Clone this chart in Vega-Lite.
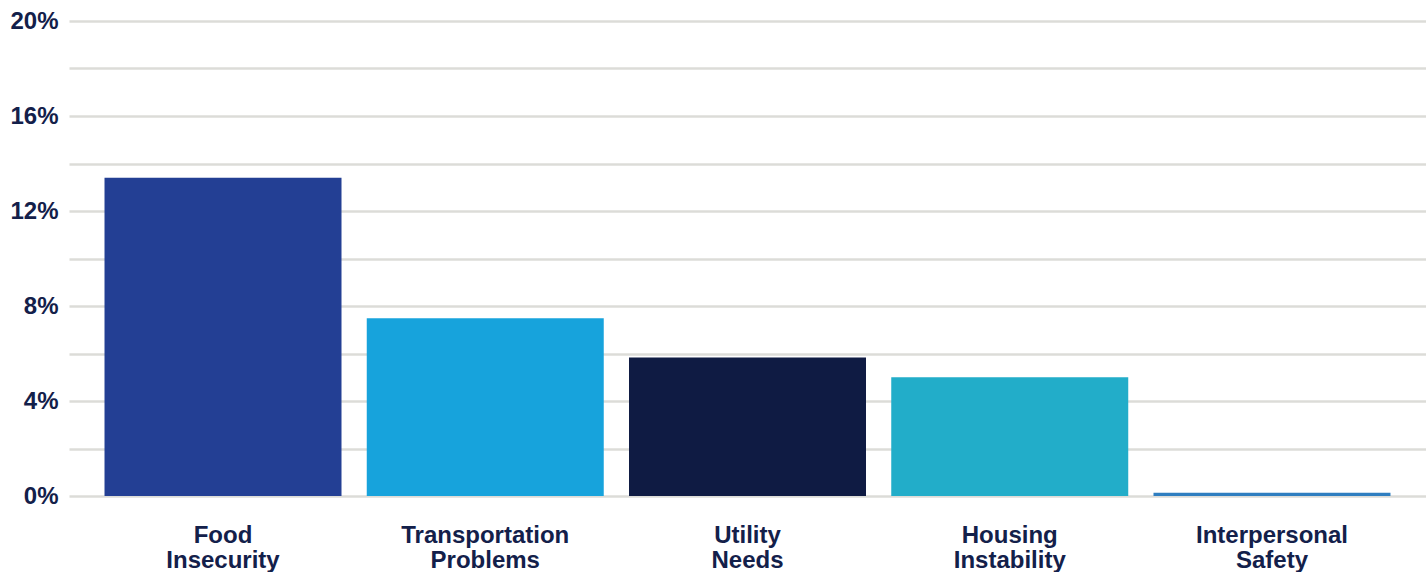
{
  "$schema": "https://vega.github.io/schema/vega-lite/v6.json",
  "autosize": "none",
  "padding": {"left": 69, "top": 21, "right": 0, "bottom": 76},
  "width": 1357,
  "height": 475,
  "background": "white",
  "data": {
    "values": [
      {"category": "Food Insecurity", "value": 13.4},
      {"category": "Transportation Problems", "value": 7.48},
      {"category": "Utility Needs", "value": 5.83},
      {"category": "Housing Instability", "value": 5.0},
      {"category": "Interpersonal Safety", "value": 0.14}
    ]
  },
  "config": {
    "view": {"stroke": null},
    "font": "Liberation Sans"
  },
  "mark": {"type": "bar"},
  "encoding": {
    "x": {
      "field": "category",
      "type": "nominal",
      "sort": null,
      "scale": {"paddingInner": 0.0963, "paddingOuter": 0.1354},
      "axis": {
        "title": null,
        "domain": false,
        "ticks": false,
        "labelAngle": 0,
        "labelExpr": "split(datum.label, ' ')",
        "labelFont": "Liberation Sans",
        "labelFontSize": 24,
        "labelFontWeight": "bold",
        "labelColor": "#13204a",
        "labelLineHeight": 25,
        "labelPadding": 27,
        "labelBaseline": "top"
      }
    },
    "y": {
      "field": "value",
      "type": "quantitative",
      "scale": {"domain": [0, 20], "nice": false},
      "axis": {
        "title": null,
        "domain": false,
        "ticks": false,
        "values": [0, 2, 4, 6, 8, 10, 12, 14, 16, 18, 20],
        "labelExpr": "datum.value % 4 == 0 ? datum.value + '%' : ''",
        "labelFont": "Liberation Sans",
        "labelFontSize": 24,
        "labelFontWeight": "bold",
        "labelColor": "#13204a",
        "labelPadding": 11,
        "grid": true,
        "gridColor": "#dcdcd8",
        "gridWidth": 2.5
      }
    },
    "color": {
      "field": "category",
      "type": "nominal",
      "sort": null,
      "legend": null,
      "scale": {
        "domain": ["Food Insecurity", "Transportation Problems", "Utility Needs", "Housing Instability", "Interpersonal Safety"],
        "range": ["#233f94", "#17a3dc", "#0f1b43", "#22adc9", "#2f7ec0"]
      }
    }
  }
}
